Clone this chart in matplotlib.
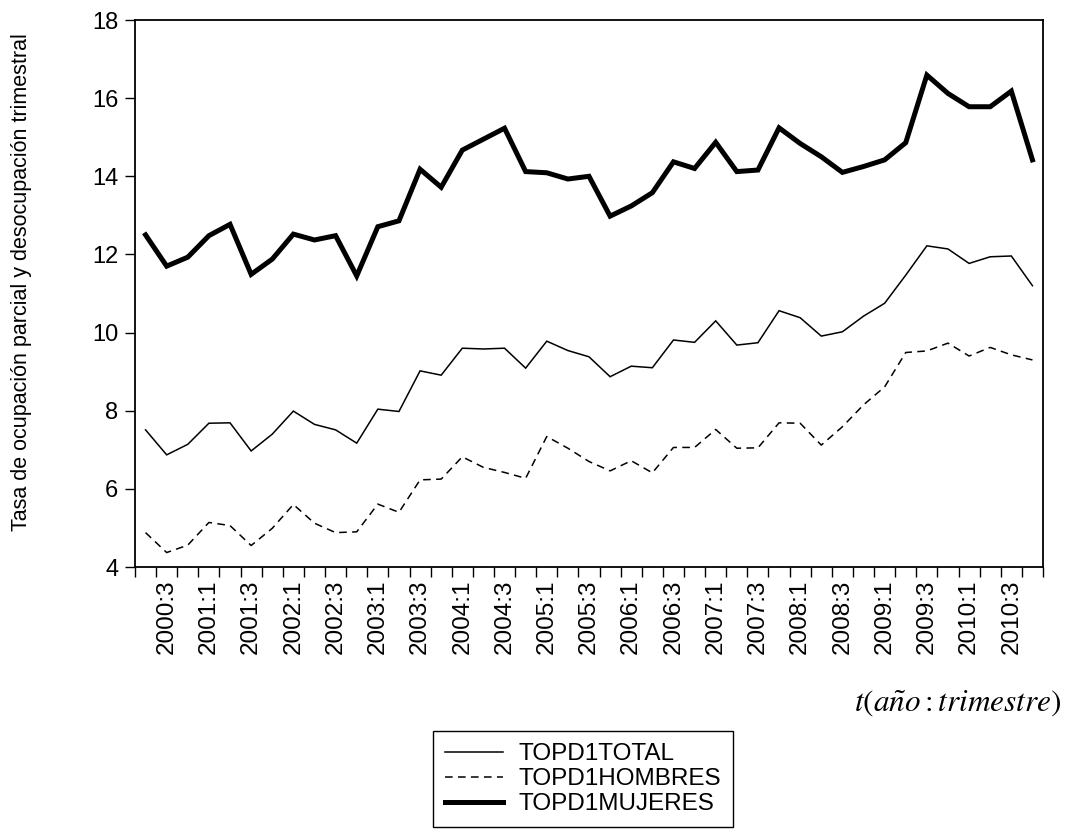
import matplotlib
matplotlib.use("Agg")
import matplotlib.pyplot as plt
import numpy as np

# Quarterly periods 2000:2 .. 2010:4
periods = [f"{y}:{q}" for y in range(2000, 2011) for q in range(1, 5)][1:]

topd1_total = [7.51, 6.87, 7.14, 7.68, 7.69, 6.97, 7.40, 7.99, 7.65, 7.51,
               7.17, 8.04, 7.98, 9.02, 8.91, 9.60, 9.58, 9.60, 9.09, 9.78,
               9.54, 9.38, 8.87, 9.14, 9.10, 9.81, 9.75, 10.30, 9.68, 9.74,
               10.56, 10.38, 9.91, 10.02, 10.42, 10.75, 11.47, 12.22, 12.14, 11.77,
               11.94, 11.96, 11.20]
topd1_hombres = [4.88, 4.37, 4.56, 5.14, 5.06, 4.55, 4.99, 5.60, 5.12, 4.88,
                 4.90, 5.61, 5.40, 6.23, 6.25, 6.82, 6.55, 6.42, 6.27, 7.34,
                 7.04, 6.70, 6.46, 6.72, 6.41, 7.06, 7.06, 7.52, 7.04, 7.05,
                 7.69, 7.68, 7.12, 7.59, 8.15, 8.61, 9.49, 9.53, 9.73, 9.40,
                 9.62, 9.43, 9.30]
topd1_mujeres = [12.50, 11.70, 11.93, 12.48, 12.77, 11.49, 11.88, 12.52, 12.37, 12.48,
                 11.45, 12.71, 12.86, 14.18, 13.72, 14.67, 14.95, 15.23, 14.12, 14.09,
                 13.93, 14.00, 12.98, 13.24, 13.58, 14.37, 14.20, 14.87, 14.12, 14.16,
                 15.24, 14.84, 14.50, 14.10, 14.25, 14.42, 14.86, 16.59, 16.12, 15.78,
                 15.78, 16.18, 14.42]

series_names = ["TOPD1TOTAL", "TOPD1HOMBRES", "TOPD1MUJERES"]
y_label = "Tasa de ocupación parcial y desocupación trimestral"

plt.rcParams['font.family'] = ['Liberation Sans', 'DejaVu Sans']
plt.rcParams['mathtext.fontset'] = 'stix'

W, H = 1069, 831
fig = plt.figure(figsize=(W / 100, H / 100), dpi=100)
ax = fig.add_axes([135 / W, 1 - 567 / H, (1043 - 135) / W, (567 - 20) / H])

x = np.arange(len(periods))
l1, = ax.plot(x, topd1_total, color='black', lw=1.1, solid_joinstyle='miter')
l2, = ax.plot(x, topd1_hombres, color='black', lw=1.1, dashes=(5, 3.5))
l3, = ax.plot(x, topd1_mujeres, color='black', lw=3.6, solid_joinstyle='miter')

ax.set_xlim(-0.5, len(periods) - 0.5)
ax.set_ylim(4, 18)
ax.set_yticks(np.arange(4, 19, 2))

# boundary ticks (unlabelled) and centred labels every two quarters
ax.set_xticks(np.arange(-0.5, len(periods), 1.0))
ax.set_xticklabels([])
lab_idx = list(range(1, len(periods), 2))
ax.set_xticks(lab_idx, minor=True)
ax.set_xticklabels([periods[i] for i in lab_idx], minor=True, rotation=90)

ax.tick_params(axis='x', which='major', direction='out', length=7, width=1, color='black')
ax.tick_params(axis='x', which='minor', length=0, pad=9, labelsize=17.5)
ax.tick_params(axis='y', which='major', direction='out', length=7, width=1, pad=5, labelsize=17)

for s in ax.spines.values():
    s.set_linewidth(1.3)
    s.set_color('black')

fig.text(22 / W, 1 - 282 / H, y_label, rotation=90, ha='center', va='center', fontsize=15.5)

fig.text(1062 / W, 1 - 703 / H, r'$t(a\tilde{n}o : trimestre)$', ha='right', va='center', fontsize=22.5)

leg = fig.legend([l1, l2, l3], series_names, loc='upper left',
                 bbox_to_anchor=(433 / W, 1 - 731 / H), bbox_transform=fig.transFigure,
                 borderaxespad=0, fancybox=False, edgecolor='black', framealpha=1,
                 fontsize=17.5, handlelength=2.4, handletextpad=0.6, labelspacing=0.12,
                 borderpad=0.5)
leg.get_frame().set_linewidth(1.0)

fig.savefig('out.png', dpi=100)
